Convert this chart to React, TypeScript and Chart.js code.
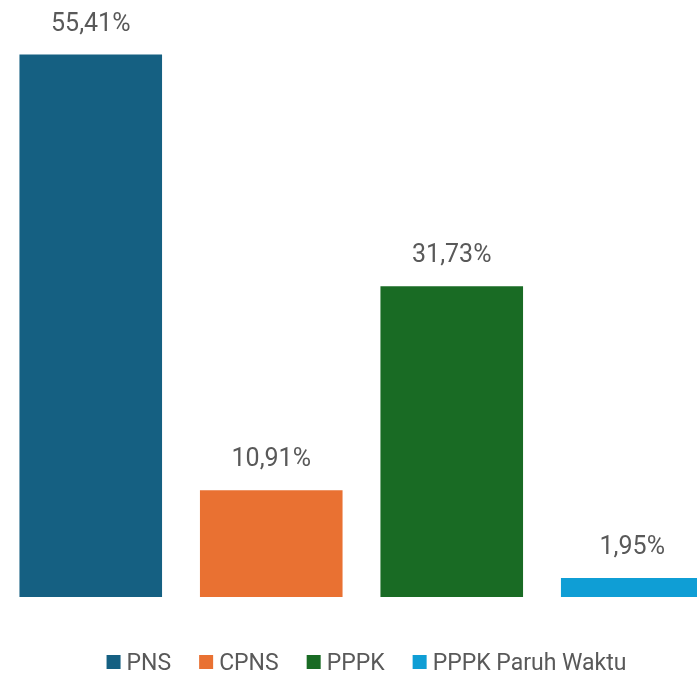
import React, { useEffect, useRef } from "react";
import { Chart, registerables } from "chart.js";

Chart.register(...registerables);

const categories = ["PNS", "CPNS", "PPPK", "PPPK Paruh Waktu"];
const values = [55.41, 10.91, 31.73, 1.95];
const colors = ["#156082", "#E97132", "#196B24", "#0F9ED5"];
const groupLabels = [""];

const TEXT_COLOR = "#595959";
const FONT = "Roboto, 'Liberation Sans', sans-serif";

const fmt = (v: number) => v.toFixed(2).replace(".", ",") + "%";

const valueLabels = {
  id: "valueLabels",
  afterDatasetsDraw(chart: any) {
    const ctx = chart.ctx;
    ctx.save();
    ctx.fillStyle = TEXT_COLOR;
    ctx.font = `25px ${FONT}`;
    ctx.textAlign = "center";
    ctx.textBaseline = "alphabetic";
    chart.data.datasets.forEach((ds: any, i: number) => {
      const meta = chart.getDatasetMeta(i);
      meta.data.forEach((bar: any, j: number) => {
        ctx.fillText(fmt(ds.data[j]), bar.x, bar.y - 24);
      });
    });
    ctx.restore();
  },
};

const customLegend = {
  id: "customLegend",
  afterDraw(chart: any) {
    const ctx = chart.ctx;
    ctx.save();
    ctx.font = `23px ${FONT}`;
    const box = 14;
    const gap = 6;
    const spacing = 28;
    const items = chart.data.datasets.map((ds: any) => ({
      label: ds.label,
      color: ds.backgroundColor,
      w: box + gap + ctx.measureText(ds.label).width,
    }));
    const total =
      items.reduce((s: number, it: any) => s + it.w, 0) + spacing * (items.length - 1);
    let x = chart.width / 2 - total / 2;
    const top = chart.chartArea.bottom + 58;
    ctx.textBaseline = "alphabetic";
    ctx.textAlign = "left";
    items.forEach((it: any) => {
      ctx.fillStyle = it.color;
      ctx.fillRect(x, top, box, box);
      ctx.fillStyle = TEXT_COLOR;
      ctx.fillText(it.label, x + box + gap, top + box + 0.5);
      x += it.w + spacing;
    });
    ctx.restore();
  },
};

export default function App() {
  const ref = useRef<HTMLCanvasElement>(null);

  useEffect(() => {
    if (!ref.current) return;
    const chart = new Chart(ref.current, {
      type: "bar",
      data: {
        labels: groupLabels,
        datasets: categories.map((c, i) => ({
          label: c,
          data: [values[i]],
          backgroundColor: colors[i],
          borderWidth: 0,
          categoryPercentage: 1,
          barPercentage: 0.79,
        })),
      },
      options: {
        animation: false,
        responsive: false,
        layout: { padding: { left: 0.5, right: 10.5, top: 9.6, bottom: 77 } },
        plugins: {
          legend: { display: false },
          tooltip: { enabled: false },
        },
        scales: {
          x: { display: false },
          y: { display: false, min: 0, max: 60 },
        },
      },
      plugins: [valueLabels, customLegend],
    });
    return () => chart.destroy();
  }, []);

  return (
    <div
      style={{
        position: "fixed",
        left: 0,
        top: 0,
        width: 697,
        height: 674,
        overflow: "hidden",
        background: "#ffffff",
      }}
    >
      <canvas ref={ref} width={733} height={674} style={{ display: "block" }} />
    </div>
  );
}
